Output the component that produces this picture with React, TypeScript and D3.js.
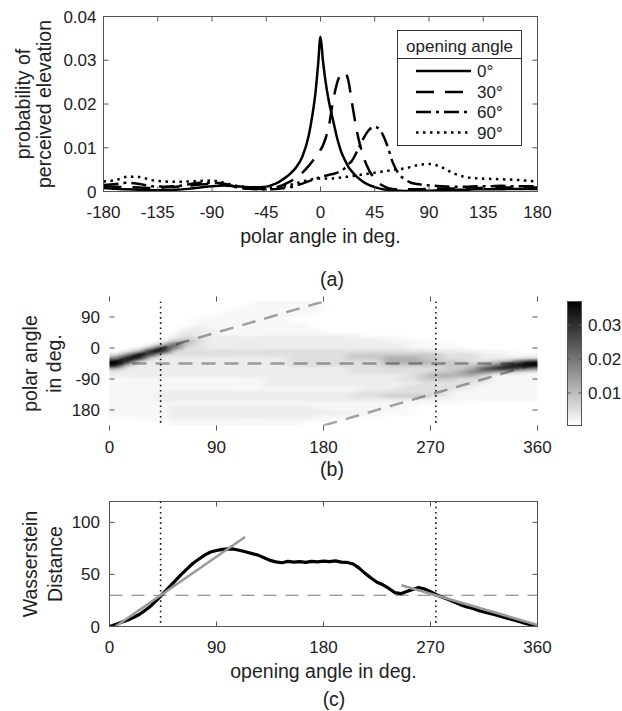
import React from 'react';
import * as d3 from 'd3';

const FONT = '"Liberation Sans", Arial, Helvetica, sans-serif';
const AXIS = '#555';
const INK = '#222';

// ---------- (a) probability of perceived elevation ----------
const polarAngle = [-180, -170, -160, -150, -140, -130, -120, -110, -100, -90, -80, -70, -60, -50, -45, -40, -35, -30, -25, -20, -15, -10, -7, -4, -2, 0, 2, 4, 7, 10, 14, 17, 20, 23, 26, 30, 35, 40, 45, 50, 55, 60, 65, 70, 75, 80, 90, 100, 110, 120, 130, 140, 150, 160, 170, 180];
const prob0 = [0.0008, 0.0006, 0.0005, 0.0004, 0.0003, 0.0003, 0.0004, 0.0006, 0.0009, 0.0012, 0.0014, 0.0012, 0.0010, 0.0010, 0.0011, 0.0015, 0.0021, 0.0030, 0.0041, 0.0056, 0.0080, 0.0125, 0.0170, 0.0230, 0.0290, 0.0354, 0.0300, 0.0255, 0.0205, 0.0168, 0.0120, 0.0092, 0.0073, 0.0057, 0.0046, 0.0034, 0.0023, 0.0015, 0.0010, 0.0006, 0.0004, 0.0003, 0.0002, 0.0001, 0.0001, 0.0001, 0.0002, 0.0003, 0.0004, 0.0004, 0.0005, 0.0005, 0.0005, 0.0006, 0.0006, 0.0006];
const prob30 = [0.0012, 0.0011, 0.0010, 0.0009, 0.0008, 0.0009, 0.0011, 0.0013, 0.0016, 0.0017, 0.0016, 0.0011, 0.0007, 0.0006, 0.0006, 0.0008, 0.0011, 0.0016, 0.0023, 0.0031, 0.0043, 0.0058, 0.0068, 0.0079, 0.0087, 0.0095, 0.0105, 0.0120, 0.0150, 0.0200, 0.0250, 0.0268, 0.0272, 0.0255, 0.0205, 0.0140, 0.0085, 0.0050, 0.0029, 0.0016, 0.0009, 0.0006, 0.0005, 0.0005, 0.0005, 0.0005, 0.0006, 0.0007, 0.0007, 0.0008, 0.0008, 0.0009, 0.0009, 0.0009, 0.0009, 0.0009];
const prob60 = [0.0015, 0.0017, 0.0020, 0.0017, 0.0012, 0.0011, 0.0012, 0.0016, 0.0020, 0.0020, 0.0018, 0.0010, 0.0006, 0.0005, 0.0005, 0.0005, 0.0006, 0.0008, 0.0010, 0.0014, 0.0018, 0.0023, 0.0026, 0.0029, 0.0031, 0.0034, 0.0035, 0.0036, 0.0038, 0.0040, 0.0043, 0.0047, 0.0053, 0.0062, 0.0070, 0.0090, 0.0118, 0.0140, 0.0148, 0.0138, 0.0108, 0.0066, 0.0040, 0.0028, 0.0020, 0.0017, 0.0014, 0.0012, 0.0011, 0.0011, 0.0012, 0.0012, 0.0013, 0.0012, 0.0012, 0.0012];
const prob90 = [0.0023, 0.0026, 0.0034, 0.0033, 0.0026, 0.0023, 0.0022, 0.0023, 0.0024, 0.0025, 0.0020, 0.0013, 0.0010, 0.0008, 0.0008, 0.0009, 0.0010, 0.0012, 0.0015, 0.0019, 0.0023, 0.0026, 0.0028, 0.0029, 0.0030, 0.0030, 0.0030, 0.0030, 0.0030, 0.0030, 0.0031, 0.0032, 0.0033, 0.0034, 0.0035, 0.0037, 0.0039, 0.0041, 0.0043, 0.0045, 0.0047, 0.0049, 0.0051, 0.0053, 0.0056, 0.0060, 0.0063, 0.0056, 0.0042, 0.0033, 0.0030, 0.0029, 0.0028, 0.0027, 0.0025, 0.0023];
const seriesA = [
  { label: '0°', values: prob0, dash: 'none' },
  { label: '30°', values: prob30, dash: '18 11' },
  { label: '60°', values: prob60, dash: '15 5 3 5' },
  { label: '90°', values: prob90, dash: '2.5 4.5' },
];
const polarTicks = [-180, -135, -90, -45, 0, 45, 90, 135, 180];
const probTicks = [0, 0.01, 0.02, 0.03, 0.04];

// ---------- (b) heat map: rows polar 135..-225, cols opening 0..360, 10 deg cells ----------
// run-length "count:level" per row
const heatRows = [
  '12:0,6:1,18:0',
  '11:0,7:1,18:0',
  '10:0,8:1,18:0',
  '9:0,8:1,19:0',
  '8:0,8:1,20:0',
  '7:0,8:1,21:0',
  '7:0,10:1,19:0',
  '6:0,1:1,1:2,9:1,19:0',
  '6:0,3:2,9:1,18:0',
  '5:0,1:1,1:3,2:2,12:1,15:0',
  '5:0,1:2,2:3,13:2,4:1,11:0',
  '4:0,1:1,1:4,1:5,1:3,15:2,4:1,9:0',
  '3:0,1:1,1:4,1:7,1:4,1:3,17:2,4:1,7:0',
  '2:0,1:1,1:5,1:8,1:6,2:3,17:2,5:1,6:0',
  '1:0,1:2,1:5,1:9,1:8,22:3,4:2,3:1,2:0',
  '1:3,1:6,1:9,1:7,16:3,8:4,3:3,2:2,3:1',
  '1:6,1:9,1:8,1:3,11:2,5:3,3:4,3:5,2:4,3:3,4:2,1:3',
  '1:9,1:8,1:3,12:2,8:3,4:5,3:4,2:3,1:4,1:5,1:7,1:8',
  '1:9,1:4,13:2,8:3,8:4,1:5,1:6,1:8,2:9',
  '1:5,19:2,8:3,2:4,1:5,1:7,2:8,1:7,1:6',
  '20:2,7:3,2:4,1:5,2:6,1:5,1:4,1:3,1:2',
  '25:2,1:3,1:4,4:5,1:3,4:1',
  '13:1,11:2,2:3,3:4,3:3,4:1',
  '13:1,13:2,5:3,1:2,4:1',
  '13:1,12:2,5:3,1:2,5:1',
  '21:1,3:2,5:3,1:2,6:1',
  '4:1,17:2,7:3,1:2,7:1',
  '4:1,16:2,3:3,4:4,1:3,1:2,7:1',
  '4:1,22:2,10:1',
  '30:1,6:0',
  '5:1,12:2,9:1,10:0',
  '5:1,13:2,7:1,11:0',
  '5:1,12:2,4:2,5:1,10:0',
  '5:1,12:2,6:1,13:0',
  '3:0,16:1,17:0',
  '5:0,11:1,20:0',
];
const heatLevels = [0, 0.0015, 0.003, 0.005, 0.008, 0.012, 0.018, 0.025, 0.032, 0.04];
const heatStep = 10;
const openingTicks = [0, 90, 180, 270, 360];
const heatPolarTicks = [90, 0, -90, -180];
const colorTicks = [0.01, 0.02, 0.03];
const colorRange = [0.0004, 0.037];
const criticalAngles = [43, 274.5];
const modelLines = [
  [[0, -45], [180, 135]],
  [[0, -45], [360, -45]],
  [[180, -225], [360, -45]],
];

// ---------- (c) Wasserstein distance ----------
const wdAngle = [0, 5, 10, 15, 20, 25, 30, 35, 40, 45, 50, 55, 60, 65, 70, 75, 80, 85, 90, 95, 100, 105, 110, 115, 120, 125, 130, 135, 140, 145, 150, 155, 160, 165, 170, 175, 180, 185, 190, 195, 200, 205, 210, 215, 220, 225, 230, 235, 240, 245, 250, 255, 260, 265, 270, 275, 280, 285, 290, 295, 300, 305, 310, 315, 320, 325, 330, 335, 340, 345, 350, 355, 360];
const wdValue = [0, 1.8, 4, 6, 8.5, 11.5, 15.5, 20, 25.5, 31.5, 37.5, 43.5, 49.5, 55, 60.5, 64.5, 68.5, 71.5, 73, 74, 74.5, 74.2, 73, 71.5, 70, 68.5, 66, 63.5, 62, 61.2, 62.5, 61.8, 62.3, 61.5, 62.5, 62, 62.8, 62.2, 63, 61.8, 61.5, 60, 56, 51, 46.5, 42.5, 40, 36.5, 32.5, 31.5, 33.5, 35.5, 37.5, 36, 33.5, 30.5, 28, 26, 23.5, 21, 19, 17.5, 15.5, 14, 12.5, 11, 9.5, 7.8, 6.2, 4.5, 3, 1.5, 0.5];
const wdTicks = [0, 50, 100];
const wdFits = [
  [[5, 0], [114, 86]],
  [[245.5, 39.6], [360, 1.5]],
];
const wdThreshold = 30;

// ---------- scales ----------
const aX = d3.scaleLinear([-180, 180], [103.5, 537.5]);
const aY = d3.scaleLinear([0, 0.04], [191.5, 16.5]);
const bX = d3.scaleLinear([0, 360], [109.5, 537.5]);
const bY = d3.scaleLinear([135, -225], [301.5, 425.5]);
const cbY = d3.scaleLinear(colorRange, [425.5, 301.5]);
const cX = d3.scaleLinear([0, 360], [109.5, 537.5]);
const cY = d3.scaleLinear([0, 120], [626.5, 501.5]);
const heatColor = d3.scaleLinear<string>().domain(colorRange).range(['#ffffff', '#000000']).clamp(true);

const parseRow = (s: string) =>
  s.split(',').flatMap((seg) => {
    const [n, d] = seg.split(':').map(Number);
    return Array(n).fill(d);
  });

function Frame({ xs, ys, xTicks, yTicks, fx, fy, xBase, yRight }: any) {
  const [x0, x1] = xs.range();
  const [yb, yt] = ys.range();
  return (
    <g>
      <rect x={x0} y={yt} width={x1 - x0} height={yb - yt} fill="none" stroke={AXIS} strokeWidth={1} />
      {xTicks.map((t: number) => (
        <g key={'x' + t}>
          <line x1={xs(t)} x2={xs(t)} y1={yb} y2={yb - 5} stroke={AXIS} />
          <line x1={xs(t)} x2={xs(t)} y1={yt} y2={yt + 5} stroke={AXIS} />
          <text x={xs(t)} y={xBase} textAnchor="middle" fontSize={17} fill={INK}>{fx(t)}</text>
        </g>
      ))}
      {yTicks.map((t: number) => (
        <g key={'y' + t}>
          <line x1={x0} x2={x0 + 5} y1={ys(t)} y2={ys(t)} stroke={AXIS} />
          <line x1={x1} x2={x1 - 5} y1={ys(t)} y2={ys(t)} stroke={AXIS} />
          <text x={yRight} y={ys(t) + 6} textAnchor="end" fontSize={17} fill={INK}>{fy(t)}</text>
        </g>
      ))}
    </g>
  );
}

function YLabel({ lines, xs, y }: { lines: string[]; xs: number[]; y: number }) {
  return (
    <g>
      {lines.map((l, i) => (
        <text key={l} transform={`translate(${xs[i]},${y}) rotate(-90)`} textAnchor="middle" fontSize={19.5} fill={INK}>{l}</text>
      ))}
    </g>
  );
}

export default function App() {
  const lineA = d3.line<number>().x((_, i) => aX(polarAngle[i])).y((d) => aY(d)).curve(d3.curveMonotoneX);
  const lineC = d3.line<number>().x((_, i) => cX(wdAngle[i])).y((d) => cY(d));
  const grid = heatRows.map(parseRow);

  return (
    <svg width={622} height={711} style={{ position: 'absolute', left: 0, top: 0, background: '#fff' }} fontFamily={FONT}>
      <defs>
        <clipPath id="clipA"><rect x={103.5} y={16.5} width={434} height={175} /></clipPath>
        <clipPath id="clipB"><rect x={109.5} y={301.5} width={428} height={124} /></clipPath>
        <clipPath id="clipC"><rect x={109.5} y={501.5} width={428} height={125} /></clipPath>
        <filter id="blurHeat" filterUnits="userSpaceOnUse" x={60} y={270} width={530} height={190} colorInterpolationFilters="sRGB">
          <feGaussianBlur stdDeviation="5 1.4" />
        </filter>
        <linearGradient id="cbar" x1="0" y1="1" x2="0" y2="0">
          <stop offset="0" stopColor={heatColor(colorRange[0])} />
          <stop offset="1" stopColor={heatColor(colorRange[1])} />
        </linearGradient>
      </defs>

      {/* (a) */}
      <g clipPath="url(#clipA)">
        {seriesA.map((s) => (
          <path key={s.label} d={lineA(s.values) || ''} fill="none" stroke="#000" strokeWidth={2.5}
            strokeDasharray={s.dash} strokeLinejoin="round" />
        ))}
      </g>
      <Frame xs={aX} ys={aY} xTicks={polarTicks} yTicks={probTicks} fx={(d: number) => String(d)}
        fy={(d: number) => (d === 0 ? '0' : d.toFixed(2))} xBase={218} yRight={96.5} />
      <g>
        <rect x={397.5} y={30.5} width={124} height={115} fill="#fff" stroke="#333" />
        <line x1={397.5} x2={521.5} y1={58.5} y2={58.5} stroke="#333" />
        <text x={459.5} y={52} textAnchor="middle" fontSize={17} fill={INK}>opening angle</text>
        {seriesA.map((s, i) => {
          const yy = [71, 92, 112, 132.5][i];
          return (
            <g key={s.label}>
              <line x1={416} x2={471} y1={yy} y2={yy} stroke="#000" strokeWidth={2.5} strokeDasharray={s.dash} />
              <text x={477} y={yy + 6} fontSize={17} fill={INK}>{s.label}</text>
            </g>
          );
        })}
      </g>
      <text x={320.5} y={243} textAnchor="middle" fontSize={19.5} fill={INK}>polar angle in deg.</text>
      <YLabel lines={['probability of', 'perceived elevation']} xs={[29.5, 50.5]} y={104} />
      <text x={332} y={286} textAnchor="middle" fontSize={19.5} fill={INK}>(a)</text>

      {/* (b) */}
      <g clipPath="url(#clipB)">
        <rect x={109.5} y={301.5} width={428} height={124} fill="#fff" />
        <g filter="url(#blurHeat)">
          {grid.map((row, i) =>
            row.map((d: number, j: number) => {
              let x0 = bX(j * heatStep);
              let x1 = bX((j + 1) * heatStep);
              let y0 = bY(135 - i * heatStep);
              let y1 = bY(135 - (i + 1) * heatStep);
              if (j === 0) x0 -= 20;
              if (j === row.length - 1) x1 += 20;
              if (i === 0) y0 -= 10;
              if (i === grid.length - 1) y1 += 10;
              return <rect key={i + '-' + j} x={x0} y={y0} width={x1 - x0 + 0.6} height={y1 - y0 + 0.6} fill={heatColor(heatLevels[d])} />;
            })
          )}
        </g>
        {modelLines.map((l, i) => (
          <line key={i} x1={bX(l[0][0])} y1={bY(l[0][1])} x2={bX(l[1][0])} y2={bY(l[1][1])}
            stroke="#a6a6a6" strokeWidth={2.5} strokeDasharray="14 9" style={{ mixBlendMode: 'multiply' }} />
        ))}
        {criticalAngles.map((a) => (
          <line key={a} x1={bX(a)} x2={bX(a)} y1={301.5} y2={425.5} stroke="#111" strokeWidth={1.6} strokeDasharray="1.6 3.6" />
        ))}
      </g>
      <Frame xs={bX} ys={bY} xTicks={openingTicks} yTicks={heatPolarTicks} fx={(d: number) => String(d)}
        fy={(d: number) => String(Math.abs(d) === 180 ? 180 : d)} xBase={452.5} yRight={100} />
      <YLabel lines={['polar angle', 'in deg.']} xs={[36.5, 61]} y={363.5} />
      <text x={332} y={476} textAnchor="middle" fontSize={19.5} fill={INK}>(b)</text>

      {/* colour bar */}
      <rect x={567.5} y={301.5} width={14} height={124} fill="url(#cbar)" stroke={AXIS} />
      {colorTicks.map((t) => (
        <g key={t}>
          <line x1={567.5} x2={570.5} y1={cbY(t)} y2={cbY(t)} stroke={AXIS} />
          <line x1={581.5} x2={578.5} y1={cbY(t)} y2={cbY(t)} stroke={AXIS} />
          <text x={588} y={cbY(t) + 6} fontSize={17} fill={INK}>{t.toFixed(2)}</text>
        </g>
      ))}

      {/* (c) */}
      <g clipPath="url(#clipC)">
        <line x1={cX(0)} x2={cX(360)} y1={cY(wdThreshold)} y2={cY(wdThreshold)} stroke="#777" strokeWidth={1.2} strokeDasharray="13 9" />
        {criticalAngles.map((a) => (
          <line key={a} x1={cX(a)} x2={cX(a)} y1={501.5} y2={626.5} stroke="#111" strokeWidth={1.6} strokeDasharray="1.6 3.6" />
        ))}
        <path d={lineC(wdValue) || ''} fill="none" stroke="#000" strokeWidth={3.2} strokeLinejoin="round" />
        {wdFits.map((l, i) => (
          <line key={i} x1={cX(l[0][0])} y1={cY(l[0][1])} x2={cX(l[1][0])} y2={cY(l[1][1])}
            stroke="#999" strokeWidth={2.5} />
        ))}
      </g>
      <Frame xs={cX} ys={cY} xTicks={openingTicks} yTicks={wdTicks} fx={(d: number) => String(d)}
        fy={(d: number) => String(d)} xBase={652.5} yRight={100} />
      <YLabel lines={['Wasserstein', 'Distance']} xs={[36.5, 61.5]} y={564} />
      <text x={323.5} y={678} textAnchor="middle" fontSize={19.5} fill={INK}>opening angle in deg.</text>
      <text x={334} y={706} textAnchor="middle" fontSize={19.5} fill={INK}>(c)</text>
    </svg>
  );
}
